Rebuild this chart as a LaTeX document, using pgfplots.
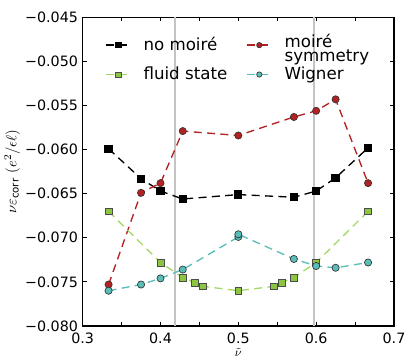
\documentclass[border=0pt]{standalone}
\usepackage{fontspec}
\setmainfont{DejaVu Sans}
\usepackage{pgfplots}
\pgfplotsset{compat=1.18}
\begin{document}
\begin{tikzpicture}
  \definecolor{nomoire}{HTML}{000000}
  \definecolor{moire}{HTML}{B22222}
  \definecolor{fluidL}{HTML}{A6D86A}
  \definecolor{fluidF}{HTML}{8CC63F}
  \definecolor{wigner}{HTML}{5BBDB8}
  \definecolor{vline}{HTML}{C4C4C4}
  \path[use as bounding box] (-62pt,-27.75pt) rectangle (249.25pt,244.5pt);
  \begin{axis}[
    at={(0,0)}, anchor=south west,
    scale only axis,
    width=233.5pt, height=231.5pt,
    xmin=0.3, xmax=0.7, ymin=-0.080, ymax=-0.045,
    xtick={0.3,0.4,0.5,0.6,0.7},
    xticklabels={0.3,0.4,0.5,0.6,0.7},
    minor xtick={0.35,0.45,0.55,0.65},
    ytick={-0.080,-0.075,-0.070,-0.065,-0.060,-0.055,-0.050,-0.045},
    yticklabels={−0.080,−0.075,−0.070,−0.065,−0.060,−0.055,−0.050,−0.045},
    scaled y ticks=false,
    tick align=inside,
    major tick length=3pt, minor tick length=3pt,
    every tick/.style={black, line width=0.6pt},
    axis line style={line width=1pt},
    tick label style={font=\fontsize{10.7}{12}\selectfont},
    xticklabel style={yshift=-2pt},
    xlabel={$\tilde{\nu}$},
    ylabel={$\nu\varepsilon_{\mathrm{corr}}\ (e^2/\epsilon\ell)$},
    xlabel style={font=\small, yshift=4pt},
    ylabel style={font=\fontsize{11}{13}\selectfont, yshift=-3pt},
    legend style={
      at={(0.5,0.965)}, anchor=north, draw=none, fill=none,
      legend columns=2, font=\fontsize{12.5}{14}\selectfont,
      /tikz/every odd column/.append style={column sep=7pt},
      /tikz/every even column/.append style={column sep=12pt},
      row sep=4pt,
    },
    legend cell align=left,
    legend image code/.code={
      \draw[#1, mark=none] (0pt,0pt) -- (19pt,0pt);
      \draw[#1, only marks, mark size=2pt] plot coordinates {(9.5pt,0pt)};
    },
  ]
    \addplot[vline, line width=1.3pt, forget plot] coordinates {(0.419,-0.080) (0.419,-0.045)};
    \addplot[vline, line width=1.3pt, forget plot] coordinates {(0.597,-0.080) (0.597,-0.045)};

    \addplot[nomoire, dash pattern=on 6pt off 4pt, line width=1pt, mark=square*, mark size=2.6pt,
      mark options={solid, fill=black}] coordinates {
      (0.3333,-0.0599) (0.375,-0.0633) (0.4,-0.0647) (0.4286,-0.0656)
      (0.5,-0.0651) (0.5714,-0.0654) (0.6,-0.0647) (0.625,-0.0632) (0.6667,-0.0598)};
    \addplot[moire, dash pattern=on 6pt off 4pt, line width=1pt, mark=*, mark size=2.7pt,
      mark options={solid, fill=moire, draw=black!80, line width=0.5pt}] coordinates {
      (0.3333,-0.0753) (0.375,-0.0649) (0.4,-0.0638) (0.4286,-0.0579)
      (0.5,-0.0584) (0.5714,-0.0563) (0.6,-0.0556) (0.625,-0.0543) (0.6667,-0.0638)};
    \addplot[fluidL, dash pattern=on 6pt off 4pt, line width=1pt, mark=square*, mark size=2.6pt,
      mark options={solid, fill=fluidF, draw=black!70, line width=0.5pt}] coordinates {
      (0.3333,-0.0670) (0.4,-0.0728) (0.4286,-0.0745) (0.4444,-0.0751) (0.4545,-0.0755)
      (0.5,-0.0760) (0.5455,-0.0755) (0.5556,-0.0751) (0.5714,-0.0745) (0.6,-0.0728) (0.6667,-0.0670)};
    \addplot[wigner, dash pattern=on 6pt off 4pt, line width=1pt, mark=*, mark size=2.7pt,
      mark options={solid, fill=wigner, draw=black!80, line width=0.5pt}] coordinates {
      (0.3333,-0.0760) (0.375,-0.0753) (0.4,-0.0746) (0.4286,-0.0736)
      (0.5,-0.0699) (0.5,-0.0696) (0.5714,-0.0724) (0.6,-0.0732) (0.625,-0.0734) (0.6667,-0.0728)};
    \legend{no moiré, {\begin{tabular}{@{}l@{}}moiré\\[-3pt]symmetry\end{tabular}}, fluid state, Wigner}
  \end{axis}
\end{tikzpicture}
\end{document}
